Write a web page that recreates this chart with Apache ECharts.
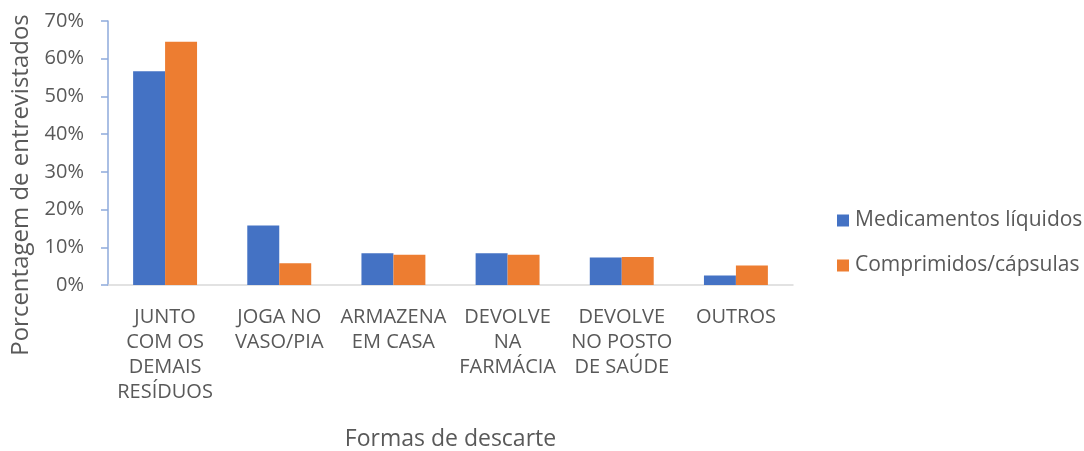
<!DOCTYPE html>
<html>
<head>
<meta charset="utf-8">
<script src="https://cdn.jsdelivr.net/npm/echarts@6/dist/echarts.min.js"></script>
<style>
  html, body { margin: 0; padding: 0; background: #fff; }
  #chart { width: 1084px; height: 451px; }
</style>
</head>
<body>
<div id="chart"></div>
<script>
// categories (line breaks as in the original figure)
var categorias = [
  'JUNTO\nCOM OS\nDEMAIS\nRESÍDUOS',
  'JOGA NO\nVASO/PIA',
  'ARMAZENA\nEM CASA',
  'DEVOLVE\nNA\nFARMÁCIA',
  'DEVOLVE\nNO POSTO\nDE SAÚDE',
  'OUTROS'
]
// percent of respondents
var liquidos = [56.7, 15.8, 8.4, 8.4, 7.3, 2.5]
var comprimidos = [64.5, 5.8, 8.0, 8.0, 7.4, 5.2]
var yTicks = [0, 10, 20, 30, 40, 50, 60, 70]

var font = '"Open Sans", sans-serif'
var cinza = '#595959'

var chart = echarts.init(document.getElementById('chart'))

chart.setOption({
  animation: false,
  textStyle: { fontFamily: font },
  grid: { left: 108, right: 291, top: 21, bottom: 166, outerBoundsMode: 'none', containLabel: false },
  legend: {
    orient: 'vertical',
    left: 832,
    top: 205,
    itemWidth: 12,
    itemHeight: 12,
    itemGap: 24,
    icon: 'rect',
    textStyle: { fontFamily: font, fontSize: 21, color: cinza, padding: [0, 0, 0, 1] },
    data: ['Medicamentos líquidos', 'Comprimidos/cápsulas']
  },
  xAxis: {
    type: 'category',
    data: categorias,
    name: 'Formas de descarte',
    nameLocation: 'middle',
    nameGap: 143,
    nameTextStyle: { fontFamily: font, fontSize: 23, color: cinza },
    axisLine: { lineStyle: { color: '#d9d9d9', width: 1.5 } },
    axisTick: { show: false },
    axisLabel: {
      interval: 0,
      margin: 20,
      fontFamily: font,
      fontSize: 20,
      color: cinza,
      lineHeight: 25
    }
  },
  yAxis: {
    type: 'value',
    min: yTicks[0],
    max: yTicks[yTicks.length - 1],
    interval: 10,
    name: 'Porcentagem de entrevistados',
    nameLocation: 'middle',
    nameGap: 75,
    nameTextStyle: { fontFamily: font, fontSize: 24, color: cinza, padding: [0, 64, 0, 0] },
    axisLine: { show: true, lineStyle: { color: '#8eaadb', width: 1.5 } },
    axisTick: { show: true, length: 7, lineStyle: { color: '#8eaadb', width: 1.5 } },
    splitLine: { show: false },
    axisLabel: {
      margin: 24,
      fontFamily: font,
      fontSize: 20,
      color: cinza,
      formatter: '{value}%'
    }
  },
  series: [
    {
      name: 'Medicamentos líquidos',
      type: 'bar',
      data: liquidos,
      barGap: '0%',
      barCategoryGap: '44%',
      itemStyle: { color: '#4472c4' }
    },
    {
      name: 'Comprimidos/cápsulas',
      type: 'bar',
      data: comprimidos,
      barGap: '0%',
      barCategoryGap: '44%',
      itemStyle: { color: '#ed7d31' }
    }
  ]
})
</script>
</body>
</html>
